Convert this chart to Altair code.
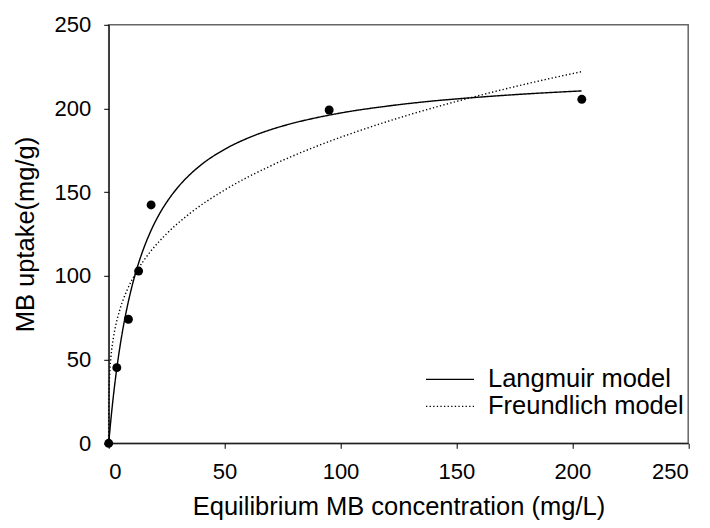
import altair as alt
import pandas as pd

conc = [0, 3.5, 8.5, 12.9, 18.3, 95.1, 204.1]
uptake = [0, 45.2, 74.1, 102.9, 142.4, 199.1, 205.5]

# Langmuir model curve
lang_c = [0, 1, 2, 3, 4, 6, 8, 10, 12, 15, 18, 22, 26, 30, 35, 40, 50, 60, 70, 80, 90, 100, 120, 140, 160, 180, 204]
lang_q = [0, 14.9, 28.0, 39.6, 49.8, 67.3, 81.6, 93.5, 103.6, 116.1, 126.3, 137.3, 146.0, 153.2, 160.5, 166.5,
          175.6, 182.3, 187.4, 191.4, 194.6, 197.3, 201.4, 204.5, 206.8, 208.7, 210.5]

# Freundlich model curve
freu_c = [0, 0.05, 0.2, 0.5, 1, 2, 3, 5, 8, 12, 18, 25, 35, 50, 70, 90, 110, 130, 150, 170, 190, 204]
freu_q = [0, 22.9, 33.5, 43.0, 52.0, 62.8, 70.2, 80.7, 91.7, 102.5, 114.5, 125.2, 137.3, 151.3, 165.8,
          177.6, 187.6, 196.4, 204.2, 211.3, 217.8, 222.0]

models = ["Langmuir model", "Freundlich model"]
ticks = [0, 50, 100, 150, 200, 250]

points = pd.DataFrame({"c": conc, "q": uptake})
curves = pd.concat([
    pd.DataFrame({"c": lang_c, "q": lang_q, "model": models[0]}),
    pd.DataFrame({"c": freu_c, "q": freu_q, "model": models[1]}),
])

FONT = "Liberation Sans"
x_scale = alt.Scale(domain=[0, 250], nice=False)
y_scale = alt.Scale(domain=[0, 250], nice=False)

x_axis = alt.Axis(title="Equilibrium MB concentration (mg/L)", values=ticks,
                  titleY=71, titleBaseline="alphabetic")
y_axis = alt.Axis(title="MB uptake(mg/g)", values=ticks,
                  titleX=-75.4, titleBaseline="alphabetic")

lines = alt.Chart(curves).mark_line(color="black", strokeWidth=1.4, interpolate="monotone").encode(
    x=alt.X("c:Q", scale=x_scale, axis=x_axis),
    y=alt.Y("q:Q", scale=y_scale, axis=y_axis),
    strokeDash=alt.StrokeDash(
        "model:N",
        scale=alt.Scale(domain=models, range=[[1, 0], [1.3, 2.3]]),
        legend=alt.Legend(
            title=None, orient="none", legendX=328.3, legendY=341.5, padding=0,
            symbolType="M-2,0H2", symbolSize=576, symbolStrokeWidth=1.3,
            symbolStrokeColor="black", symbolFillColor="transparent",
            labelFont=FONT, labelFontSize=25.5,
            labelColor="black", labelOffset=25, rowPadding=0, labelLimit=400,
        ),
    ),
)

pts = alt.Chart(points).mark_circle(color="black", size=80, opacity=1).encode(
    x=alt.X("c:Q", scale=x_scale),
    y=alt.Y("q:Q", scale=y_scale),
)

chart = alt.layer(lines, pts).properties(
    width=579.5, height=418.5,
    padding={"left": 100.7, "top": 16.8, "right": 13.8, "bottom": 76.7},
    autosize=alt.AutoSizeParams(type="none"),
).configure_view(
    stroke="#666666", strokeWidth=1.5
).configure_axis(
    grid=False, labelFont=FONT, labelFontSize=22, labelColor="black",
    titleFont=FONT, titleFontSize=25.5, titleFontWeight="normal", titleColor="black",
    domainColor="black", domainWidth=1, tickColor="black", tickSize=5, tickWidth=1,
    labelPadding=13,
)

chart.save("out.html", embed_options={"renderer": "svg", "actions": False})
